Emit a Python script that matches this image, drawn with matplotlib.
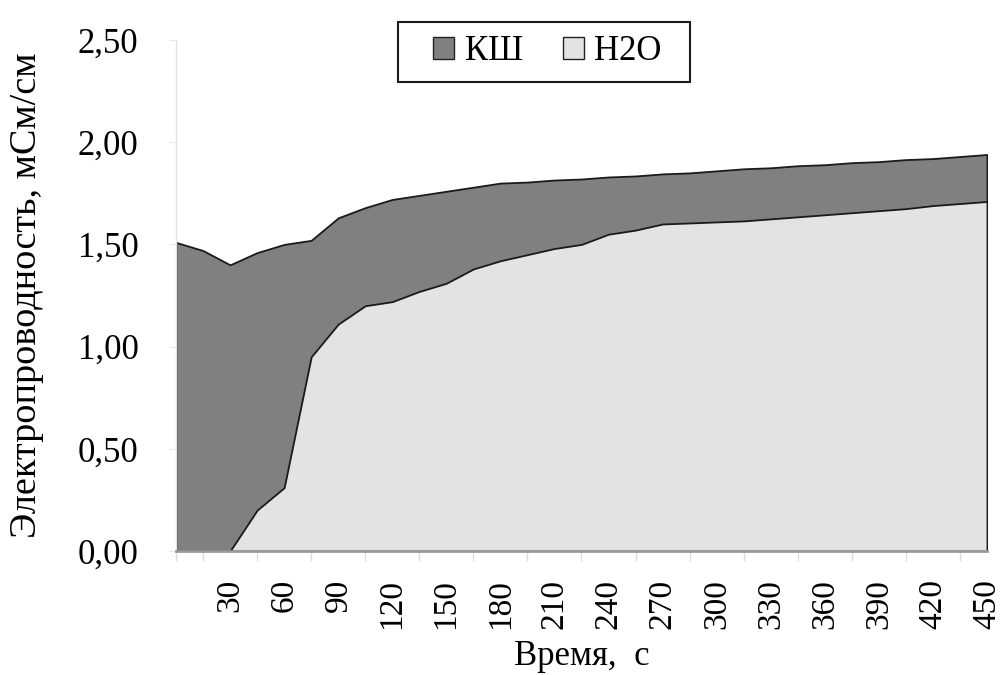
import matplotlib
matplotlib.use("Agg")
import matplotlib.pyplot as plt
from matplotlib.patches import Patch, Rectangle
import numpy as np

plt.rcParams['font.family'] = ['Liberation Serif', 'DejaVu Serif']

time_s = [0, 15, 30, 45, 60, 75, 90, 105, 120, 135, 150, 165, 180, 195, 210, 225,
          240, 255, 270, 285, 300, 315, 330, 345, 360, 375, 390, 405, 420, 435, 450]
ksh = [1.51, 1.47, 1.40, 1.46, 1.50, 1.52, 1.63, 1.68, 1.72, 1.74, 1.76, 1.78, 1.80,
       1.805, 1.815, 1.82, 1.83, 1.835, 1.845, 1.85, 1.86, 1.87, 1.875, 1.885, 1.89,
       1.90, 1.905, 1.915, 1.92, 1.93, 1.94]
h2o = [0.0, 0.0, 0.0, 0.20, 0.31, 0.95, 1.11, 1.20, 1.22, 1.27, 1.31, 1.38, 1.42,
       1.45, 1.48, 1.50, 1.55, 1.57, 1.60, 1.605, 1.61, 1.615, 1.625, 1.635, 1.645,
       1.655, 1.665, 1.675, 1.69, 1.70, 1.71]
series_names = ['КШ', 'Н2О']
xtick_vals = list(range(30, 451, 30))
ytick_vals = [0.0, 0.5, 1.0, 1.5, 2.0, 2.5]
ytick_labels = ['0,00', '0,50', '1,00', '1,50', '2,00', '2,50']

dark = '#808080'
light = '#e3e3e3'

fig = plt.figure(figsize=(10.03, 6.75), dpi=100)
ax = fig.add_axes([0.1755, 0.1837, 0.8085, 0.757])

ax.fill_between(time_s, 0, ksh, facecolor=dark, edgecolor='#1a1a1a', linewidth=1.3, zorder=2)
ax.fill_between(time_s, 0, h2o, facecolor=light, edgecolor='#1a1a1a', linewidth=1.3, zorder=3)

ax.set_xlim(0, 450)
ax.set_ylim(0, 2.5)

for s in ['top', 'right']:
    ax.spines[s].set_visible(False)
ax.spines['left'].set_color('#e6e6e6')
ax.spines['left'].set_linewidth(1.0)
ax.spines['bottom'].set_color('#9a9a9a')
ax.spines['bottom'].set_linewidth(2.0)
ax.spines['bottom'].set_zorder(4)

ax.set_xticks(xtick_vals)
ax.set_xticklabels([str(v) for v in xtick_vals], rotation=90, fontsize=24)
ax.set_xticks(time_s, minor=True)
ax.tick_params(axis='x', which='major', length=0, pad=20)
ax.tick_params(axis='x', which='minor', length=7, color='#dcdcdc', width=1)

ax.set_yticks(ytick_vals)
ax.set_yticklabels(ytick_labels, fontsize=25)
ax.tick_params(axis='y', which='major', length=5, color='#e6e6e6', pad=22)

ax.set_xlabel('Время,  с', fontsize=25, labelpad=8)
ax.set_ylabel('Электропроводность, мСм/см', fontsize=27.5, labelpad=24)

# legend frame (drawn separately to get Excel-like proportions)
fig.patches.append(Rectangle((398 / 1003, 1 - 82 / 675), 292 / 1003, 60 / 675,
                             transform=fig.transFigure, facecolor='white',
                             edgecolor='#1a1a1a', linewidth=1.5, zorder=5))
handles = [Patch(facecolor=dark, edgecolor='#222222', linewidth=1.0),
           Patch(facecolor=light, edgecolor='#222222', linewidth=1.0)]
leg = fig.legend(handles, series_names, loc='center', bbox_to_anchor=(547.5 / 1003, 1 - 52 / 675),
                 ncol=2, fontsize=25, frameon=False,
                 handlelength=0.6, handleheight=0.6, handletextpad=0.3,
                 columnspacing=1.15, borderpad=0.0, borderaxespad=0)
leg.set_zorder(6)

fig.savefig('out.png', dpi=100, facecolor='white')
